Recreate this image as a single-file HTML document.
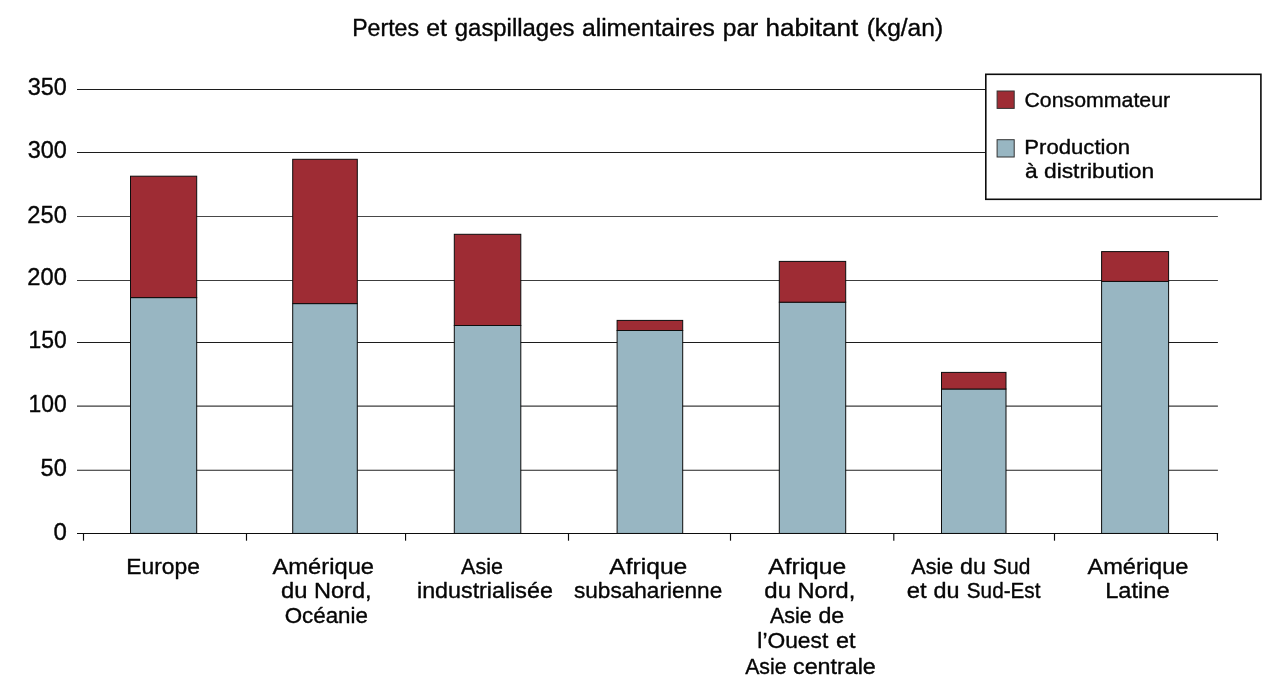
<!DOCTYPE html>
<html><head><meta charset="utf-8"><title>Pertes et gaspillages alimentaires par habitant</title>
<style>
html,body{margin:0;padding:0;background:#fff;overflow:hidden;}
svg{display:block;}
text{font-family:"Liberation Sans",sans-serif;fill:#060606;stroke:#060606;stroke-width:0.36px;stroke-linejoin:round;}
.b{fill:#98b6c2;stroke:#0d0d0d;stroke-width:1;}
.r{fill:#9e2c34;stroke:#0d0d0d;stroke-width:1;}
</style></head><body>
<svg width="1277" height="695" viewBox="0 0 1277 695">
<rect width="1277" height="695" fill="#fff"/>
<g stroke-width="1.05">
<line x1="77" x2="1217.9" y1="89.45" y2="89.45" stroke="#1c1c1c"/>
<line x1="77" x2="1217.9" y1="152.45" y2="152.45" stroke="#1c1c1c"/>
<line x1="77" x2="1217.9" y1="216.50" y2="216.50" stroke="#484848"/>
<line x1="77" x2="1217.9" y1="280.40" y2="280.40" stroke="#3c3c3c"/>
<line x1="77" x2="1217.9" y1="342.45" y2="342.45" stroke="#1c1c1c"/>
<line x1="77" x2="1217.9" y1="406.10" y2="406.10" stroke="#3c3c3c"/>
<line x1="77" x2="1217.9" y1="470.30" y2="470.30" stroke="#222"/>
</g>
<g>
<rect class="b" x="130.50" y="297.60" width="66.20" height="235.85"/>
<rect class="r" x="130.50" y="176.20" width="66.20" height="121.40"/>
<rect class="b" x="292.70" y="303.60" width="64.60" height="229.85"/>
<rect class="r" x="292.70" y="159.30" width="64.60" height="144.30"/>
<rect class="b" x="454.30" y="325.50" width="66.50" height="207.95"/>
<rect class="r" x="454.30" y="234.30" width="66.50" height="91.20"/>
<rect class="b" x="617.10" y="330.50" width="65.60" height="202.95"/>
<rect class="r" x="617.10" y="320.40" width="65.60" height="10.10"/>
<rect class="b" x="779.30" y="302.20" width="66.40" height="231.25"/>
<rect class="r" x="779.30" y="261.40" width="66.40" height="40.80"/>
<rect class="b" x="941.50" y="389.00" width="64.50" height="144.45"/>
<rect class="r" x="941.50" y="372.40" width="64.50" height="16.60"/>
<rect class="b" x="1101.60" y="281.40" width="67.00" height="252.05"/>
<rect class="r" x="1101.60" y="251.60" width="67.00" height="29.80"/>
</g>
<g stroke="#0c0c0c" stroke-width="1.15">
<line x1="77" x2="1218.1" y1="533.45" y2="533.45"/>
<line x1="83.50" x2="83.50" y1="533.45" y2="540.7"/>
<line x1="246.50" x2="246.50" y1="533.45" y2="540.7"/>
<line x1="405.56" x2="405.56" y1="533.45" y2="540.7"/>
<line x1="568.50" x2="568.50" y1="533.45" y2="540.7"/>
<line x1="730.50" x2="730.50" y1="533.45" y2="540.7"/>
<line x1="893.80" x2="893.80" y1="533.45" y2="540.7"/>
<line x1="1054.50" x2="1054.50" y1="533.45" y2="540.7"/>
<line x1="1217.40" x2="1217.40" y1="533.45" y2="540.7"/>
</g>
<rect x="985.8" y="74.3" width="275.1" height="125" fill="#fff" stroke="#0c0c0c" stroke-width="1.6"/>
<rect class="r" x="997.1" y="91" width="17.1" height="17.4" style="stroke:#333"/>
<rect class="b" x="997.1" y="139.7" width="17.1" height="17.3" style="stroke:#333"/>
<g>
<text y="35.50" font-size="23"><tspan x="352.19" textLength="66.78" lengthAdjust="spacingAndGlyphs">Pertes</tspan> <tspan x="426.27" textLength="20.69" lengthAdjust="spacingAndGlyphs">et</tspan> <tspan x="454.80" textLength="119.59" lengthAdjust="spacingAndGlyphs">gaspillages</tspan> <tspan x="581.98" textLength="132.74" lengthAdjust="spacingAndGlyphs">alimentaires</tspan> <tspan x="722.71" textLength="35.56" lengthAdjust="spacingAndGlyphs">par</tspan> <tspan x="765.62" textLength="92.74" lengthAdjust="spacingAndGlyphs">habitant</tspan> <tspan x="866.70" textLength="76.42" lengthAdjust="spacingAndGlyphs">(kg/an)</tspan></text>
<text x="27.72" y="94.80" font-size="23.1" textLength="39.12" lengthAdjust="spacingAndGlyphs">350</text>
<text x="27.72" y="158.40" font-size="23.1" textLength="39.12" lengthAdjust="spacingAndGlyphs">300</text>
<text x="27.34" y="222.50" font-size="23.1" textLength="39.50" lengthAdjust="spacingAndGlyphs">250</text>
<text x="27.34" y="285.40" font-size="23.1" textLength="39.50" lengthAdjust="spacingAndGlyphs">200</text>
<text x="28.52" y="348.40" font-size="23.1" textLength="38.20" lengthAdjust="spacingAndGlyphs">150</text>
<text x="28.52" y="411.80" font-size="23.1" textLength="38.20" lengthAdjust="spacingAndGlyphs">100</text>
<text x="40.61" y="476.10" font-size="23.1" textLength="26.22" lengthAdjust="spacingAndGlyphs">50</text>
<text x="53.60" y="539.60" font-size="23.1" textLength="13.35" lengthAdjust="spacingAndGlyphs">0</text>
<text x="126.27" y="573.60" font-size="22" textLength="73.61" lengthAdjust="spacingAndGlyphs">Europe</text>
<text x="272.55" y="573.60" font-size="22" textLength="101.46" lengthAdjust="spacingAndGlyphs">Amérique</text>
<text y="598.40" font-size="22"><tspan x="280.91" textLength="26.48" lengthAdjust="spacingAndGlyphs">du</tspan> <tspan x="314.01" textLength="57.60" lengthAdjust="spacingAndGlyphs">Nord,</tspan></text>
<text x="284.70" y="623.40" font-size="22" textLength="83.25" lengthAdjust="spacingAndGlyphs">Océanie</text>
<text x="461.05" y="573.60" font-size="22" textLength="41.87" lengthAdjust="spacingAndGlyphs">Asie</text>
<text x="416.99" y="598.40" font-size="22" textLength="135.90" lengthAdjust="spacingAndGlyphs">industrialisée</text>
<text x="609.35" y="573.60" font-size="22" textLength="77.90" lengthAdjust="spacingAndGlyphs">Afrique</text>
<text x="574.00" y="598.40" font-size="22" textLength="148.27" lengthAdjust="spacingAndGlyphs">subsaharienne</text>
<text x="768.25" y="573.60" font-size="22" textLength="77.90" lengthAdjust="spacingAndGlyphs">Afrique</text>
<text y="598.40" font-size="22"><tspan x="764.30" textLength="26.70" lengthAdjust="spacingAndGlyphs">du</tspan> <tspan x="797.50" textLength="57.81" lengthAdjust="spacingAndGlyphs">Nord,</tspan></text>
<text y="623.40" font-size="22"><tspan x="769.95" textLength="41.77" lengthAdjust="spacingAndGlyphs">Asie</tspan> <tspan x="818.42" textLength="25.87" lengthAdjust="spacingAndGlyphs">de</tspan></text>
<text y="648.40" font-size="22"><tspan x="757.33" textLength="70.95" lengthAdjust="spacingAndGlyphs">l’Ouest</tspan> <tspan x="836.02" textLength="19.55" lengthAdjust="spacingAndGlyphs">et</tspan></text>
<text y="673.50" font-size="22"><tspan x="745.15" textLength="41.36" lengthAdjust="spacingAndGlyphs">Asie</tspan> <tspan x="793.02" textLength="82.77" lengthAdjust="spacingAndGlyphs">centrale</tspan></text>
<text y="573.60" font-size="22"><tspan x="911.35" textLength="41.87" lengthAdjust="spacingAndGlyphs">Asie</tspan> <tspan x="960.12" textLength="25.83" lengthAdjust="spacingAndGlyphs">du</tspan> <tspan x="993.10" textLength="37.23" lengthAdjust="spacingAndGlyphs">Sud</tspan></text>
<text y="598.40" font-size="22"><tspan x="906.71" textLength="19.86" lengthAdjust="spacingAndGlyphs">et</tspan> <tspan x="933.52" textLength="26.05" lengthAdjust="spacingAndGlyphs">du</tspan> <tspan x="966.80" textLength="73.68" lengthAdjust="spacingAndGlyphs">Sud-Est</tspan></text>
<text x="1087.45" y="573.60" font-size="22" textLength="100.96" lengthAdjust="spacingAndGlyphs">Amérique</text>
<text x="1105.20" y="598.40" font-size="22" textLength="64.40" lengthAdjust="spacingAndGlyphs">Latine</text>
<text x="1024.45" y="106.70" font-size="20.8" textLength="145.70" lengthAdjust="spacingAndGlyphs">Consommateur</text>
<text x="1024.32" y="153.70" font-size="20.8" textLength="105.77" lengthAdjust="spacingAndGlyphs">Production</text>
<text y="178.20" font-size="20.8"><tspan x="1024.94" textLength="12.68" lengthAdjust="spacingAndGlyphs">à</tspan> <tspan x="1043.96" textLength="110.28" lengthAdjust="spacingAndGlyphs">distribution</tspan></text>
</g>
</svg>
</body></html>
